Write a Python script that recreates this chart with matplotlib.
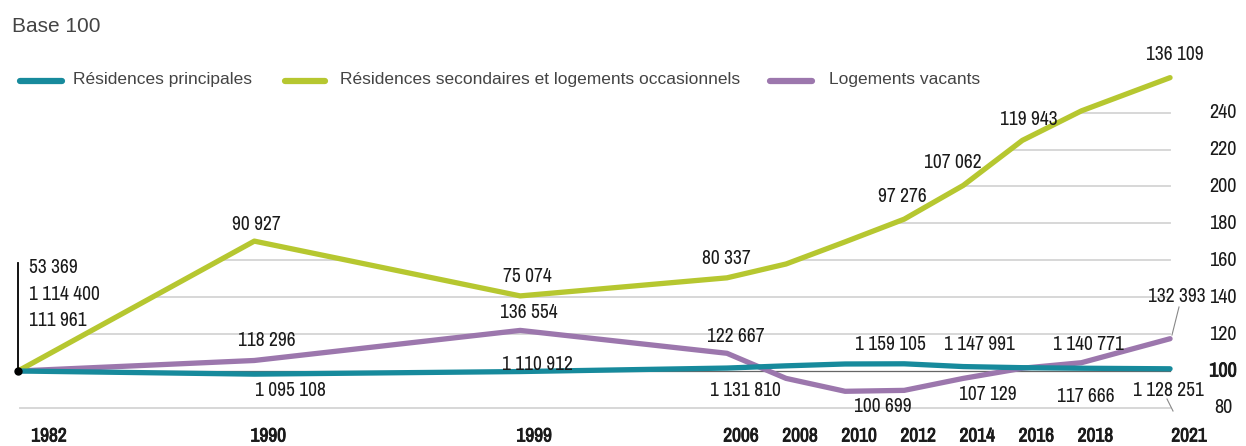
import matplotlib.pyplot as plt
import matplotlib.patheffects as pe
import numpy as np

# data (index, base 100 in 1982)
years = [1982, 1990, 1999, 2006, 2008, 2010, 2012, 2014, 2016, 2018, 2021]
principales = [100, 98.3, 99.7, 101.6, 102.8, 103.8, 103.9, 102.4, 101.8, 101.5, 101.2]
secondaires = [100, 170.4, 140.7, 150.5, 158, 170, 182.3, 200.6, 225, 241, 259]
vacants = [100, 105.7, 122.0, 109.6, 96, 89, 89.5, 96, 101.5, 104.5, 117.5]

xtick_years = [1982, 1990, 1999, 2006, 2008, 2010, 2012, 2014, 2016, 2018, 2021]
ytick_values = [80, 100, 120, 140, 160, 180, 200, 220, 240]

legend_names = ["Résidences principales",
                "Résidences secondaires et logements occasionnels",
                "Logements vacants"]

# value labels (text) for each series
lab_princ = ["1 095 108", "1 110 912", "1 131 810", "1 159 105", "1 147 991", "1 140 771", "1 128 251"]
lab_sec = ["90 927", "75 074", "80 337", "97 276", "107 062", "119 943", "136 109"]
lab_vac = ["118 296", "136 554", "122 667", "100 699", "107 129", "117 666", "132 393"]
lab_base = ["53 369", "1 114 400", "111 961"]

# label positions in image pixels (centre x, centre y)
pos_princ = [(290, 391), (537, 364), (745, 390), (890, 344), (979, 344), (1088, 344), (1168, 390)]
pos_sec = [(256, 225), (527, 276), (726, 258), (902, 197), (953, 163), (1029, 120), (1175, 55)]
pos_vac = [(267, 340), (529, 312), (736, 336), (883, 407), (988, 394), (1086, 397), (1177, 297)]
pos_base = [(29, 268), (29, 294), (29, 320)]

c_princ = "#178a9c"
c_sec = "#b6c730"
c_vac = "#9c77ad"
c_txt = "#1a1a1a"

W, H = 1246, 446
X0, XS = 18, 29.54      # pixel of 1982, pixels per year
Y100, YS = 371, 1.845   # pixel of 100, pixels per index point


def xd(px):
    return 1982 + (px - X0) / XS


def yd(py):
    return 100 + (Y100 - py) / YS


narrow = ["Liberation Sans Narrow", "Arial Narrow", "Archivo Narrow",
          "Roboto Condensed", "IBM Plex Sans Condensed", "Liberation Sans", "DejaVu Sans"]
plain = ["Liberation Sans", "DejaVu Sans"]
# the condensed face may have no bold cut: a thin stroke fakes it
heavy = [pe.withStroke(linewidth=0.6, foreground=c_txt)]

fig = plt.figure(figsize=(W / 100, H / 100), dpi=100)
ax = fig.add_axes([0, 0, 1, 1])
ax.set_xlim(xd(0), xd(W))
ax.set_ylim(yd(H), yd(0))
ax.axis("off")

# grid, hidden above the green curve
for v in ytick_values:
    if v == 100:
        continue
    ax.plot([xd(X0 + 2), years[-1]], [v, v], color="#d4d4d4", lw=1.3, zorder=1)
ax.fill_between(years, secondaires, yd(0), color="white", lw=0, zorder=2)
ax.plot([years[0], years[-1]], [100, 100], color="#666666", lw=0.9, zorder=2.5)

ax.plot(years, vacants, color=c_vac, lw=3.8, solid_capstyle="round", solid_joinstyle="round", zorder=3)
ax.plot(years, secondaires, color=c_sec, lw=3.8, solid_capstyle="round", solid_joinstyle="round", zorder=4)
ax.plot(years, principales, color=c_princ, lw=3.8, solid_capstyle="round", solid_joinstyle="round", zorder=5)

# 1982 origin marker
ax.plot([1982, 1982], [100, yd(263)], color="black", lw=1.3, zorder=6)
ax.plot([1982], [100], "o", color="black", ms=5, zorder=7)

# value labels
for labs, poss in [(lab_princ, pos_princ), (lab_sec, pos_sec), (lab_vac, pos_vac)]:
    for t, (px, py) in zip(labs, poss):
        ax.text(xd(px), yd(py), t, ha="center", va="center", fontsize=14,
                family=narrow, color=c_txt, zorder=8)
for t, (px, py) in zip(lab_base, pos_base):
    ax.text(xd(px), yd(py), t, ha="left", va="center", fontsize=14,
            family=narrow, color=c_txt, zorder=8)

# leader lines
ax.plot([xd(1179), xd(1172)], [yd(307), yd(335)], color="#888888", lw=0.8, zorder=6)
ax.plot([xd(1167), xd(1173)], [yd(399), yd(411)], color="#888888", lw=0.8, zorder=6)

# x labels (bold, shifted right of the point)
for yr in xtick_years:
    off = 14
    if yr == 1982:
        off = 31
    elif yr == 2021:
        off = 19
    ax.text(xd(X0 + (yr - 1982) * XS + off), yd(436), str(yr), ha="center", va="center",
            fontsize=14, fontweight="bold", family=narrow, color=c_txt, path_effects=heavy)

# right-hand scale
for v in ytick_values:
    ax.text(xd(1223), v, str(v), ha="center", va="center", fontsize=14.5,
            family=narrow, color=c_txt, fontweight="bold" if v == 100 else "normal",
            path_effects=heavy if v == 100 else None)

# title and legend
fig.text(12 / W, 1 - 27 / H, "Base 100", ha="left", va="center", fontsize=15,
         family=plain, color="#444444")
sw = [(17, 65, 73), (282, 328, 340), (767, 815, 829)]
for (a, b, tx), name, col in zip(sw, legend_names, [c_princ, c_sec, c_vac]):
    ax.plot([xd(a + 3), xd(b - 3)], [yd(81), yd(81)], color=col, lw=4.5, solid_capstyle="round")
    ax.text(xd(tx), yd(80), name, ha="left", va="center", fontsize=12.5,
            family=plain, color="#444444")

fig.savefig("out.png", dpi=100)
